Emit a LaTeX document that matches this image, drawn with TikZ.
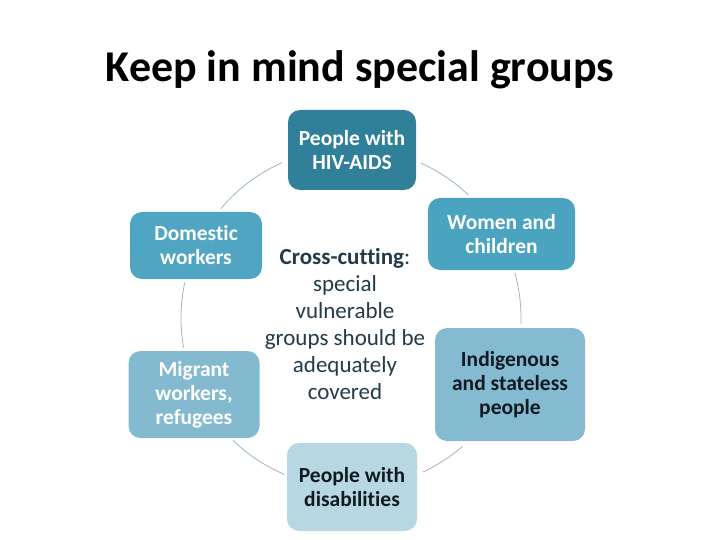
\documentclass[tikz,border=0pt]{standalone}
\usepackage{fontspec}
\setmainfont{Carlito}[Ligatures=NoCommon]
\definecolor{hivc}{HTML}{31809A}
\definecolor{womc}{HTML}{4AA3BF}
\definecolor{domc}{HTML}{50A6C2}
\definecolor{migc}{HTML}{84BACF}
\definecolor{indc}{HTML}{84BBD0}
\definecolor{disc}{HTML}{B7D7E2}
\definecolor{arcc}{HTML}{9DB5C4}
\definecolor{ctext}{HTML}{213B4A}
\definecolor{dtext}{HTML}{111A22}
\begin{document}
\begin{tikzpicture}[x=1pt,y=-1pt,
  box/.style={rounded corners=12pt, align=center, inner sep=0pt,
    font=\fontsize{21.5}{24}\selectfont\bfseries},
  link/.style={draw=arcc, line width=0.8pt}]
\useasboundingbox (0,0) rectangle (720,540);
\node[font=\fontsize{44}{50}\selectfont\bfseries] (title) at (360,70) {Keep in mind special groups};
\coordinate (c) at (351,318);
\draw[link] ([shift={(-65.7:170)}]c) arc[start angle=-65.7, end angle=-46.4, radius=170];
\draw[link] ([shift={(-15.5:170)}]c) arc[start angle=-15.5, end angle=2, radius=170];
\draw[link] ([shift={(49:170)}]c) arc[start angle=49, end angle=65, radius=170];
\draw[link] ([shift={(113:170)}]c) arc[start angle=113, end angle=134, radius=170];
\draw[link] ([shift={(170:170)}]c) arc[start angle=170, end angle=192, radius=170];
\draw[link] ([shift={(220:170)}]c) arc[start angle=220, end angle=246, radius=170];
\node[box, fill=hivc, text=white, minimum width=128pt, minimum height=80pt] (hiv) at (352,150) {People with\\HIV-AIDS};
\node[box, fill=womc, text=white, minimum width=147pt, minimum height=72pt] (wom) at (501.5,234) {Women and\\children};
\node[box, fill=indc, text=dtext, minimum width=150pt, minimum height=113pt] (ind) at (510,384.5) {Indigenous\\and stateless\\people};
\node[box, fill=disc, text=dtext, minimum width=130pt, minimum height=88pt] (dis) at (352,487) {People with\\disabilities};
\node[box, fill=migc, text=white, minimum width=131pt, minimum height=87pt] (mig) at (194,394.5) {Migrant\\workers,\\refugees};
\node[box, fill=domc, text=white, minimum width=132pt, minimum height=67pt] (dom) at (196,245.5) {Domestic\\workers};
\node[align=center, text=ctext, font=\fontsize{23}{27}\selectfont] (cc) at (345,324) {\textbf{Cross-cutting}:\\special\\vulnerable\\groups should be\\adequately\\covered};
\end{tikzpicture}
\end{document}
